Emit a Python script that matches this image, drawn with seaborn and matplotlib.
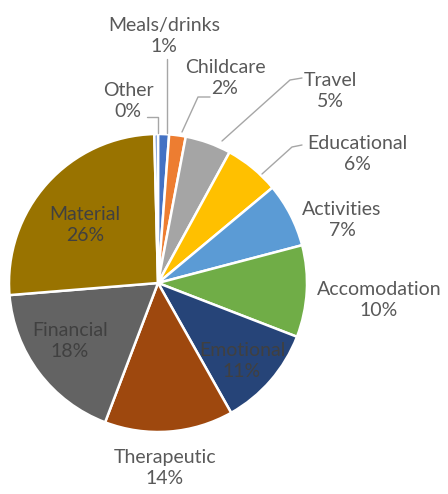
import matplotlib
matplotlib.use("Agg")
import matplotlib.pyplot as plt
import seaborn as sns

# data (clockwise from the top)
categories = ["Meals/drinks", "Childcare", "Travel", "Educational", "Activities",
              "Accomodation", "Emotional", "Therapeutic", "Financial", "Material", "Other"]
values = [1.2, 1.8, 5, 6, 7, 10, 11, 14, 18, 26, 0.4]

colors = ["#4472C4", "#ED7D31", "#A5A5A5", "#FFC000", "#5B9BD5", "#70AD47",
          "#264478", "#9E480E", "#636363", "#997300", "#698ED0"]

# label centres in pixel space (styling only)
label_pos = [(164, 36), (225, 78), (330, 91), (357, 154), (342, 220),
             (379, 300), (242, 361), (165, 468), (70, 341), (85, 225), (128, 101)]
inside = {"Emotional", "Financial", "Material"}
# leader lines for the small outside slices
leaders = {
    "Meals/drinks": [(167, 59), (167, 133)],
    "Childcare": [(210, 97), (198, 97), (182, 132)],
    "Travel": [(302, 78), (290, 80), (222, 141)],
    "Educational": [(302, 145), (292, 147), (262, 174)],
    "Other": [(147, 117), (158, 117), (158, 133)],
}

sns.set_theme(style="white")
plt.rcParams["font.family"] = ["Lato", "DejaVu Sans"]

fig = plt.figure(figsize=(4.48, 4.94), dpi=100)
ax = fig.add_axes([0, 0, 1, 1])

ax.pie(values, colors=colors, startangle=-90, counterclock=True,
       center=(158, 283), radius=149,
       wedgeprops=dict(edgecolor="white", linewidth=1.8), frame=True)
ax.set_xlim(0, 448)
ax.set_ylim(494, 0)
ax.set_aspect("equal")
ax.axis("off")

total = sum(values)
for cat, v, (x, y) in zip(categories, values, label_pos):
    pct = f"{round(v / total * 100):d}%"
    col = "#404040" if cat in inside else "#595959"
    ax.text(x, y, f"{cat}\n{pct}", ha="center", va="center", fontsize=14,
            color=col, linespacing=1.35)

for cat, pts in leaders.items():
    xs, ys = zip(*pts)
    ax.plot(xs, ys, color="#A6A6A6", lw=1)

fig.savefig("out.png", dpi=100)
